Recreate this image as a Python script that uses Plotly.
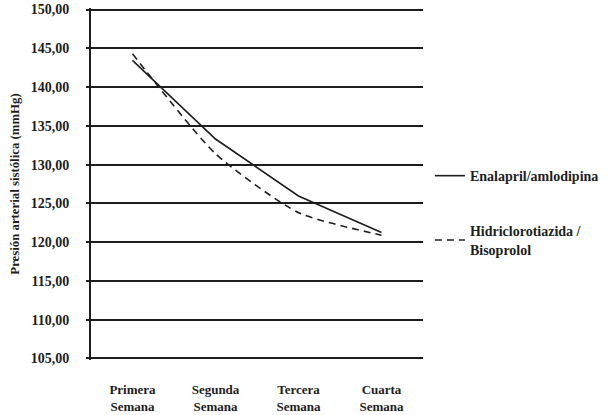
import plotly.graph_objects as go

categories = ["Primera Semana", "Segunda Semana", "Tercera Semana", "Cuarta Semana"]
category_labels = ["Primera<br>Semana", "Segunda<br>Semana", "Tercera<br>Semana", "Cuarta<br>Semana"]
enalapril = [143.45, 133.3, 125.95, 121.25]
hidri = [144.3, 131.4, 123.8, 120.9]
y_ticks = [105, 110, 115, 120, 125, 130, 135, 140, 145, 150]
y_tick_labels = ["105,00", "110,00", "115,00", "120,00", "125,00", "130,00", "135,00", "140,00", "145,00", "150,00"]
series_names = ["Enalapril/amlodipina", "Hidriclorotiazida /<br>Bisoprolol"]

FONT = "Liberation Serif"
INK = "#1e1e1e"

def bold(s):
    return "<br>".join("<b>" + p + "</b>" for p in s.split("<br>"))

fig = go.Figure()
fig.add_trace(go.Scatter(
    x=categories, y=enalapril, mode="lines", name=bold(series_names[0]),
    line=dict(color=INK, width=1.6), legendgroup="a"))
fig.add_trace(go.Scatter(
    x=categories, y=hidri, mode="lines", name=bold(series_names[1]),
    line=dict(color=INK, width=1.6, dash="7px,5px", shape="spline", smoothing=0.6),
    legendgroup="b"))

fig.update_layout(
    width=613, height=415,
    margin=dict(l=91, r=188, t=8.45, b=55.45),
    paper_bgcolor="white", plot_bgcolor="white",
    font=dict(family=FONT, color=INK),
    showlegend=True,
    legend=dict(x=1.545, y=0.568, xanchor="right", yanchor="top",
                font=dict(family=FONT, size=14, color=INK),
                tracegroupgap=34, bgcolor="rgba(0,0,0,0)"),
    xaxis=dict(type="category", range=[-0.5, 3.5], showgrid=False, zeroline=False,
               showline=False, ticks="", automargin=False,
               tickvals=categories, ticktext=[bold(c) for c in category_labels],
               tickfont=dict(family=FONT, size=13, color=INK),
               ticklabelstandoff=20),
    yaxis=dict(range=[104.8, 150.2], tickvals=y_ticks, ticktext=[bold(t) for t in y_tick_labels],
               automargin=False,
               showgrid=True, gridcolor=INK, gridwidth=1.8,
               showline=True, linecolor=INK, linewidth=1.8,
               ticks="outside", ticklen=3, tickcolor=INK, tickwidth=1.6,
               zeroline=False,
               tickfont=dict(family=FONT, size=14, color=INK),
               ticklabelstandoff=14,
               title=dict(text="<b>Presión arterial sistólica (mmHg)</b>",
                          font=dict(family=FONT, size=12.8, color=INK),
                          standoff=8)),
)

fig.write_html("out.html", config={"displayModeBar": False},
               post_script="document.body.style.margin='0';")
